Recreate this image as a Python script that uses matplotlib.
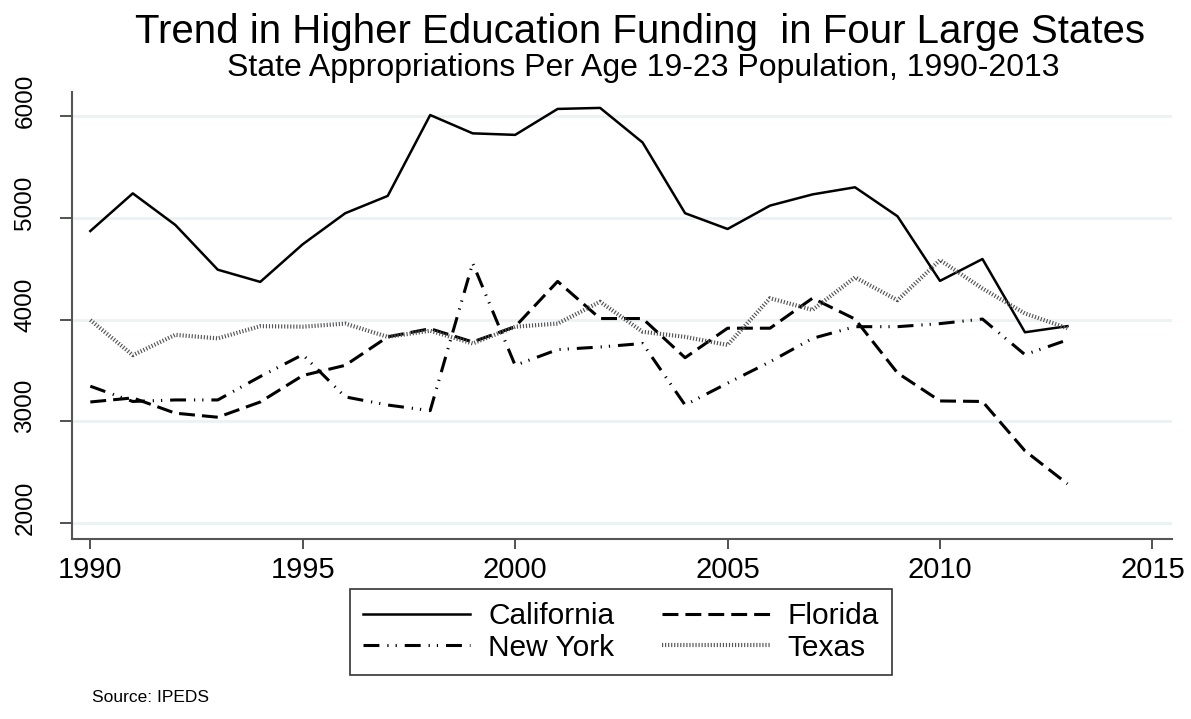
import matplotlib
matplotlib.use("Agg")
import matplotlib.pyplot as plt
from matplotlib.transforms import ScaledTranslation

# values
years = list(range(1990, 2014))
california = [4870, 5240, 4930, 4490, 4370, 4740, 5045, 5215, 6010, 5830,
              5815, 6070, 6080, 5740, 5045, 4890, 5120, 5230, 5300, 5015,
              4380, 4595, 3875, 3935]
florida = [3190, 3230, 3080, 3040, 3190, 3450, 3550, 3830, 3910, 3780,
           3930, 4375, 4010, 4010, 3625, 3915, 3915, 4210, 4005, 3475,
           3200, 3195, 2710, 2385]
new_york = [3345, 3195, 3210, 3210, 3440, 3655, 3240, 3160, 3105, 4555,
            3550, 3705, 3730, 3765, 3160, 3375, 3585, 3815, 3930, 3930,
            3960, 4005, 3655, 3800]
texas = [3995, 3650, 3850, 3815, 3935, 3930, 3960, 3830, 3890, 3765,
         3930, 3960, 4175, 3880, 3830, 3750, 4210, 4095, 4415, 4190,
         4585, 4305, 4060, 3915]

xticks = [1990, 1995, 2000, 2005, 2010, 2015]
yticks = [2000, 3000, 4000, 5000, 6000]

plt.rcParams["font.family"] = ["Liberation Sans", "DejaVu Sans"]

fig = plt.figure(figsize=(11.91, 7.19), dpi=100)
ax = fig.add_axes([0.0605, 0.2503, 0.9235, 0.6217])

ax.plot(years, california, color="black", lw=1.8, label="California")
ax.plot(years, florida, color="black", lw=2.2, dashes=(5.2, 2.3), label="Florida")
ax.plot(years, new_york, color="black", lw=2.2,
        dashes=(5.2, 2.6, 0.4, 2.3, 0.4, 2.6), label="New York")
ax.plot(years, texas, color="#555555", lw=3.0, dashes=(0.28, 0.45), label="Texas")

ax.set_xlim(1989.57, 2015.46)
ax.set_ylim(1843, 6236)
ax.set_xticks(xticks)
ax.set_yticks(yticks)
ax.set_yticklabels([str(v) for v in yticks], rotation=90, va="center", fontsize=17.5)
ax.tick_params(axis="both", color="#333333")
ax.tick_params(axis="y", length=8.6, width=1.2, pad=17)
ax.tick_params(axis="x", length=7.2, width=1.2, pad=5, labelsize=21)
shift = ScaledTranslation(0, 0.15, fig.dpi_scale_trans)
for lab in ax.get_yticklabels():
    lab.set_transform(lab.get_transform() + shift)
ax.grid(axis="y", color="#eaf2f3", lw=2)
ax.set_axisbelow(True)
for s in ["top", "right"]:
    ax.spines[s].set_visible(False)
for s in ["left", "bottom"]:
    ax.spines[s].set_color("#555555")
    ax.spines[s].set_linewidth(1.5)

fig.text(640 / 1191, 1 - 43 / 719, "Trend in Higher Education Funding  in Four Large States",
         ha="center", va="baseline", fontsize=29)
fig.text(643 / 1191, 1 - 76 / 719, "State Appropriations Per Age 19-23 Population, 1990-2013",
         ha="center", va="baseline", fontsize=23)
fig.text(92 / 1191, 1 - 698 / 719, "Source: IPEDS", ha="left", va="center", fontsize=12.5)

handles, labels = ax.get_legend_handles_labels()
order = [0, 2, 1, 3]
leg = fig.legend([handles[i] for i in order], [labels[i] for i in order],
                 ncol=2, loc="center", bbox_to_anchor=(621 / 1191, 1 - 632 / 719),
                 fontsize=21.5, handlelength=3.6, columnspacing=1.6, handletextpad=0.6,
                 labelspacing=0.12, borderpad=0.45, borderaxespad=0,
                 fancybox=False, frameon=True)
leg.get_frame().set_edgecolor("black")
leg.get_frame().set_linewidth(1.2)

fig.savefig("out.png", dpi=100)
